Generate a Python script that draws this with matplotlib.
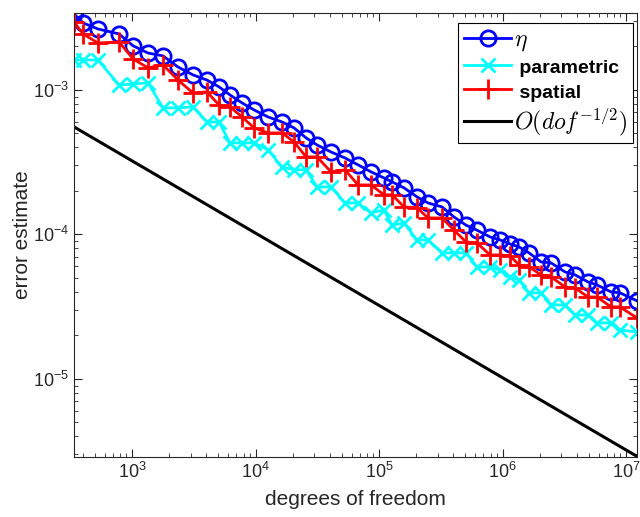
import numpy as np
import matplotlib
matplotlib.use('Agg')
import matplotlib.pyplot as plt
from matplotlib.font_manager import FontProperties

plt.rcParams['font.family'] = 'Liberation Sans'
plt.rcParams['mathtext.fontset'] = 'custom'
plt.rcParams['mathtext.rm'] = 'Liberation Sans'
plt.rcParams['mathtext.it'] = 'Liberation Sans:italic'
plt.rcParams['mathtext.bf'] = 'Liberation Sans:bold'

# degrees of freedom (shared by all estimators)
dofs = [339, 401, 531, 785, 1019, 1348, 1782, 2357, 3118, 4047,
        5060, 6215, 7780, 9730, 12620, 16400, 20500, 25650, 31480, 40850,
        53080, 67610, 86100, 109700, 127400, 159300, 203000, 249400, 323600, 404700,
        505800, 621000, 792000, 955000, 1151000, 1361000, 1640000, 2051000, 2472000, 3207000,
        3865000, 4922000, 5823000, 7560000, 8940000, 12270000]

eta = [3.36e-3, 2.91e-3, 2.64e-3, 2.44e-3, 2.02e-3, 1.80e-3, 1.72e-3, 1.44e-3, 1.27e-3, 1.17e-3,
       1.05e-3, 9.23e-4, 8.13e-4, 7.27e-4, 6.50e-4, 6.00e-4, 5.46e-4, 4.66e-4, 4.16e-4, 3.72e-4,
       3.38e-4, 3.03e-4, 2.71e-4, 2.46e-4, 2.31e-4, 2.10e-4, 1.82e-4, 1.65e-4, 1.55e-4, 1.32e-4,
       1.16e-4, 1.07e-4, 9.61e-5, 9.16e-5, 8.59e-5, 8.19e-5, 7.45e-5, 6.45e-5, 6.35e-5, 5.50e-5,
       5.25e-5, 4.69e-5, 4.47e-5, 4.00e-5, 3.94e-5, 3.47e-5]

parametric = [1.61e-3, 1.61e-3, 1.61e-3, 1.08e-3, 1.10e-3, 1.12e-3, 7.51e-4, 7.51e-4, 7.63e-4, 6.00e-4,
              6.00e-4, 4.30e-4, 4.30e-4, 4.30e-4, 3.84e-4, 2.93e-4, 2.80e-4, 2.80e-4, 2.13e-4, 2.13e-4,
              1.65e-4, 1.65e-4, 1.41e-4, 1.48e-4, 1.16e-4, 1.20e-4, 9.16e-5, 9.16e-5, 7.45e-5, 7.45e-5,
              7.45e-5, 5.96e-5, 5.96e-5, 5.68e-5, 5.08e-5, 4.84e-5, 3.94e-5, 3.94e-5, 3.25e-5, 3.25e-5,
              2.77e-5, 2.77e-5, 2.44e-5, 2.44e-5, 2.18e-5, 2.11e-5]

spatial = [2.96e-3, 2.44e-3, 2.11e-3, 2.15e-3, 1.64e-3, 1.42e-3, 1.49e-3, 1.17e-3, 9.53e-4, 9.69e-4,
           7.87e-4, 7.63e-4, 6.50e-4, 5.46e-4, 5.04e-4, 5.04e-4, 4.37e-4, 3.44e-4, 3.44e-4, 2.71e-4,
           2.80e-4, 2.20e-4, 2.20e-4, 1.88e-4, 1.88e-4, 1.55e-4, 1.53e-4, 1.30e-4, 1.30e-4, 1.07e-4,
           8.87e-5, 8.73e-5, 7.21e-5, 7.21e-5, 7.10e-5, 6.15e-5, 5.96e-5, 5.25e-5, 5.08e-5, 4.33e-5,
           4.26e-5, 3.69e-5, 3.69e-5, 3.15e-5, 3.15e-5, 2.64e-5]

# reference slope line O(dof^-1/2), end points
ref_dofs = [339, 12270000]
ref_vals = [5.55e-4, 2.91e-6]

fig = plt.figure(figsize=(6.4, 5.17), dpi=100)
ax = fig.add_axes([0.1156, 0.116, 0.8797, 0.859])

ax.loglog(dofs, eta, '-o', color='#0000ff', lw=2, ms=11, mew=2, mfc='none', label=r'$\eta$')
ax.loglog(dofs, parametric, '-x', color='#00ffff', lw=2, ms=10, mew=2, label=' parametric')
ax.loglog(dofs, spatial, '-+', color='#ff0000', lw=2, ms=14, mew=2, label=' spatial')
ax.loglog(ref_dofs, ref_vals, '-', color='k', lw=2.2, label=r'$O(dof^{-1/2})$')

ax.set_xlim(339, 12270000)
ax.set_ylim(2.88e-6, 3.41e-3)

ax.set_xlabel('degrees of freedom', fontsize=15, color='#262626', labelpad=6)
ax.set_ylabel('error estimate', fontsize=15, color='#262626', labelpad=1)
ax.tick_params(which='both', direction='in', top=True, right=True, colors='#262626', labelsize=13)
ax.tick_params(which='major', length=6)
ax.tick_params(which='minor', length=3)
for s in ax.spines.values():
    s.set_color('#262626')
    s.set_linewidth(0.8)

prop = FontProperties(family='Liberation Sans', size=17, math_fontfamily='cm')
leg = ax.legend(loc='upper right', bbox_to_anchor=(0.993, 0.977), borderaxespad=0,
                prop=prop, fancybox=False, edgecolor='k', framealpha=1,
                handlelength=2.0, handletextpad=0.1, labelspacing=0.15, borderpad=0.25)
leg.get_frame().set_linewidth(0.8)
for t in leg.get_texts()[1:3]:
    t.set_fontweight('bold')
    t.set_fontsize(14)

plt.savefig('out.png', dpi=100)
